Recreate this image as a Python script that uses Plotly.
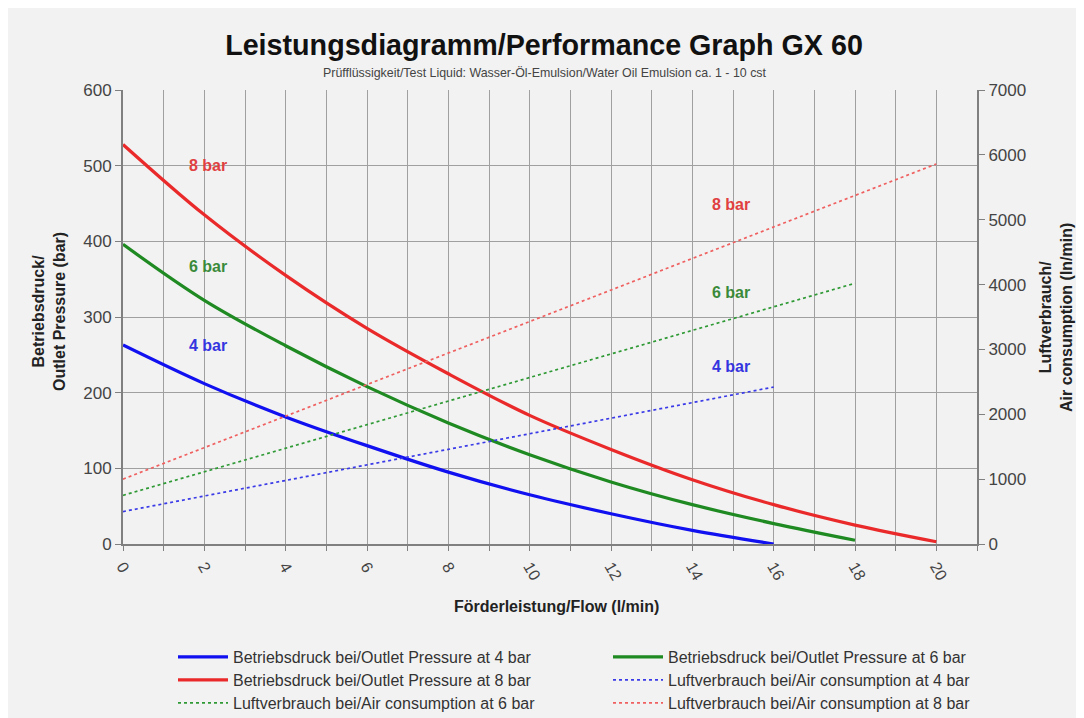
import plotly.graph_objects as go

# ---- data ----
flow_4 = [0, 2, 4, 6, 8, 10, 12, 14, 16]
pressure_4 = [263, 212, 168, 130, 95, 65, 40, 18, 0]
flow_6 = [0, 2, 4, 6, 8, 10, 12, 14, 16, 18]
pressure_6 = [396, 322, 262, 208, 160, 118, 82, 52, 27, 5]
flow_8 = [0, 2, 4, 6, 8, 10, 12, 14, 16, 18, 20]
pressure_8 = [528, 435, 355, 285, 225, 170, 125, 85, 52, 25, 3]

air_flow_4 = [0, 16]
air_4 = [500, 2420]
air_flow_6 = [0, 18]
air_6 = [750, 4020]
air_flow_8 = [0, 20]
air_8 = [1000, 5860]

x_ticks = [0, 2, 4, 6, 8, 10, 12, 14, 16, 18, 20]

BLUE = "#1010f0"
GREEN = "#1f8a22"
RED = "#ea2a2a"
FONT = "Liberation Sans, Arial, sans-serif"

fig = go.Figure()
fig.add_trace(go.Scatter(x=flow_4, y=pressure_4, mode="lines", line=dict(color=BLUE, width=3.2, shape="spline"),
                         name="Betriebsdruck bei/Outlet Pressure at 4 bar", legend="legend"))
fig.add_trace(go.Scatter(x=flow_6, y=pressure_6, mode="lines", line=dict(color=GREEN, width=3.2, shape="spline"),
                         name="Betriebsdruck bei/Outlet Pressure at 6 bar", legend="legend2"))
fig.add_trace(go.Scatter(x=flow_8, y=pressure_8, mode="lines", line=dict(color=RED, width=3.2, shape="spline"),
                         name="Betriebsdruck bei/Outlet Pressure at 8 bar", legend="legend3"))
fig.add_trace(go.Scatter(x=air_flow_4, y=air_4, mode="lines", yaxis="y2", line=dict(color="#3a3ae8", width=1.7, dash="dot"),
                         name="Luftverbrauch bei/Air consumption at 4 bar", legend="legend4"))
fig.add_trace(go.Scatter(x=air_flow_6, y=air_6, mode="lines", yaxis="y2", line=dict(color="#2f9a35", width=1.7, dash="dot"),
                         name="Luftverbrauch bei/Air consumption at 6 bar", legend="legend5"))
fig.add_trace(go.Scatter(x=air_flow_8, y=air_8, mode="lines", yaxis="y2", line=dict(color="#f06060", width=1.7, dash="dot"),
                         name="Luftverbrauch bei/Air consumption at 8 bar", legend="legend6"))

GRID = "#a0a0a0"
AXIS = "#808080"
TICKFONT = dict(family=FONT, size=17, color="#444444")
H = 454.0
W = 854.0
OFF = 8  # page body margin

# page-pixel helpers (page coords of the reference)
PL, PR, PT, PB = 123, 977, 90, 544


def leg(xpx, ypx):
    return dict(x=(xpx - PL) / W, xanchor="left", y=(PB - ypx) / H, yanchor="middle",
                itemwidth=50,
                bgcolor="rgba(0,0,0,0)", font=dict(family=FONT, size=16, color="#333333"))


col1 = 173
col2 = 608
fig.update_layout(
    width=1084 - OFF, height=718 - OFF,
    margin=dict(l=PL - OFF, r=1084 - PR, t=PT - OFF, b=718 - PB, autoexpand=False),
    paper_bgcolor="#f2f2f2", plot_bgcolor="#f2f2f2",
    font=dict(family=FONT, color="#333333"),
    title=dict(text="<b>Leistungsdiagramm/Performance Graph GX 60</b>", x=(544 - OFF) / (1084 - OFF),
               xanchor="center", y=1 - (45 - OFF) / (718 - OFF), yanchor="middle",
               font=dict(family=FONT, size=28.7, color="#111111")),
    xaxis=dict(range=[0, 21], tickvals=x_ticks, tickangle=60, tickfont=dict(family=FONT, size=16, color="#444444"),
               showgrid=True, gridcolor=GRID, gridwidth=1,
               minor=dict(dtick=1, showgrid=True, gridcolor=GRID, ticks="outside", ticklen=5, tickcolor=AXIS),
               ticks="outside", ticklen=5, tickcolor=AXIS,
               showline=True, linecolor=AXIS, linewidth=2, zeroline=False),
    yaxis=dict(range=[0, 600], dtick=100, tickfont=TICKFONT, showgrid=True, gridcolor=GRID, gridwidth=1,
               ticks="outside", ticklen=6, tickcolor=AXIS, showline=True, linecolor=AXIS, linewidth=2,
               zeroline=False),
    yaxis2=dict(range=[0, 7000], dtick=1000, overlaying="y", side="right", tickfont=TICKFONT,
                showgrid=False, ticks="outside", ticklen=6, tickcolor=AXIS, showline=True,
                linecolor=AXIS, linewidth=2, zeroline=False),
    legend=leg(col1, 657),
    legend2=leg(col2, 657),
    legend3=leg(col1, 680),
    legend4=leg(col2, 680),
    legend5=leg(col1, 703),
    legend6=leg(col2, 703),
    showlegend=True,
)

anns = [
    dict(text="Prüfflüssigkeit/Test Liquid: Wasser-Öl-Emulsion/Water Oil Emulsion ca. 1 - 10 cst",
         xref="paper", yref="paper", x=(545 - PL) / W, y=(PB - 73) / H, xanchor="center", yanchor="middle",
         showarrow=False, font=dict(family=FONT, size=12.4, color="#444444")),
    dict(text="<b>Förderleistung/Flow (l/min)</b>", xref="paper", yref="paper", x=(556 - PL) / W,
         y=(PB - 606) / H, xanchor="center", yanchor="middle",
         showarrow=False, font=dict(family=FONT, size=16, color="#222222")),
    dict(text="<b>Betriebsdruck/<br>Outlet Pressure (bar)</b>", xref="paper", yref="paper",
         x=(49 - PL) / W, y=(PB - 312) / H, xanchor="center", yanchor="middle", textangle=-90, showarrow=False,
         font=dict(family=FONT, size=16, color="#222222")),
    dict(text="<b>Luftverbrauch/<br>Air consumption (ln/min)</b>", xref="paper", yref="paper",
         x=(1056 - PL) / W, y=(PB - 318) / H, xanchor="center", yanchor="middle", textangle=-90, showarrow=False,
         font=dict(family=FONT, size=16, color="#222222")),
    dict(text="<b>8 bar</b>", x=2.1, y=500, xref="x", yref="y", showarrow=False,
         font=dict(family=FONT, size=16, color="#e04040")),
    dict(text="<b>6 bar</b>", x=2.1, y=367, xref="x", yref="y", showarrow=False,
         font=dict(family=FONT, size=16, color="#3a8a3a")),
    dict(text="<b>4 bar</b>", x=2.1, y=262, xref="x", yref="y", showarrow=False,
         font=dict(family=FONT, size=16, color="#3535e0")),
    dict(text="<b>8 bar</b>", x=14.95, y=449, xref="x", yref="y", showarrow=False,
         font=dict(family=FONT, size=16, color="#e04040")),
    dict(text="<b>6 bar</b>", x=14.95, y=333, xref="x", yref="y", showarrow=False,
         font=dict(family=FONT, size=16, color="#3a8a3a")),
    dict(text="<b>4 bar</b>", x=14.95, y=234, xref="x", yref="y", showarrow=False,
         font=dict(family=FONT, size=16, color="#3535e0")),
]
fig.update_layout(annotations=anns)

fig.write_html("out.html")
